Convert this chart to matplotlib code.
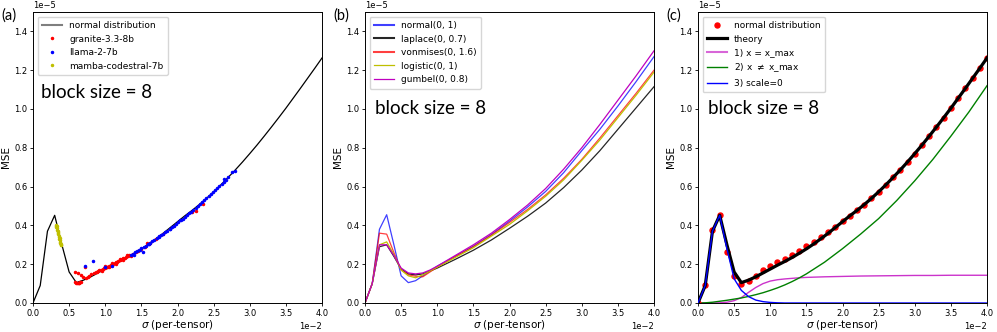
import numpy as np
import matplotlib
matplotlib.use("Agg")
import matplotlib.pyplot as plt
from matplotlib.ticker import MultipleLocator

# ---------------- data (x in 1e-2, y in 1e-5) ----------------
x_fine = [round(0.1 * i, 1) for i in range(41)]

normal_mse = [0.0, 0.095, 0.375, 0.453, 0.263, 0.138, 0.100, 0.115, 0.141, 0.169,
              0.189, 0.210, 0.229, 0.248, 0.270, 0.293, 0.317, 0.339, 0.367, 0.393,
              0.422, 0.449, 0.477, 0.507, 0.539, 0.573, 0.609, 0.647, 0.686, 0.727,
              0.770, 0.814, 0.860, 0.907, 0.955, 1.004, 1.055, 1.106, 1.158, 1.210, 1.263]

theory_mse = [0.0, 0.09, 0.37, 0.452, 0.30, 0.16, 0.105, 0.118, 0.135, 0.155,
              0.175, 0.195, 0.214, 0.234, 0.256, 0.279, 0.304, 0.331, 0.359, 0.389,
              0.419, 0.449, 0.477, 0.507, 0.539, 0.573, 0.609, 0.647, 0.686, 0.727,
              0.770, 0.814, 0.860, 0.907, 0.955, 1.004, 1.055, 1.106, 1.158, 1.210, 1.263]

granite_x = [0.58, 0.60, 0.61, 0.62, 0.63, 0.64, 0.65, 0.67,
             0.58, 0.62, 0.66, 0.69, 0.72, 0.74, 0.76, 0.78, 0.80,
             0.85, 0.87, 0.89, 0.90, 0.92, 0.94, 0.95, 0.97, 0.98, 1.00, 1.02, 1.03, 1.05,
             1.06, 1.08, 1.10, 1.11, 1.13, 1.15, 1.16, 1.18, 1.20, 1.21, 1.23, 1.25, 1.27,
             1.29, 1.31, 1.33, 1.35, 0.95, 1.00, 1.05, 1.10, 1.15, 1.20, 1.25, 1.30, 1.35,
             1.38, 1.42, 1.46, 1.50, 1.55, 1.58, 1.60, 1.62, 1.70, 1.80, 2.20, 2.25, 2.35]
granite_y = [0.108, 0.105, 0.103, 0.104, 0.103, 0.105, 0.107, 0.110,
             0.160, 0.155, 0.145, 0.135, 0.185, 0.130, 0.135, 0.140, 0.148,
             0.155, 0.160, 0.162, 0.165, 0.168, 0.170, 0.172, 0.176, 0.178, 0.180, 0.185, 0.186, 0.190,
             0.193, 0.196, 0.200, 0.203, 0.206, 0.210, 0.212, 0.216, 0.220, 0.222, 0.226, 0.230, 0.234,
             0.238, 0.242, 0.246, 0.250, 0.165, 0.190, 0.185, 0.208, 0.203, 0.228, 0.222, 0.245, 0.242,
             0.255, 0.262, 0.270, 0.280, 0.290, 0.310, 0.305, 0.310, 0.330, 0.355, 0.470, 0.475, 0.510]

llama_x = [0.72, 0.83, 1.00, 1.10, 1.52, 2.65, 2.75, 2.80,
           1.35, 1.38, 1.41, 1.44, 1.47, 1.50, 1.53, 1.56, 1.59, 1.62, 1.65, 1.68, 1.71,
           1.74, 1.77, 1.80, 1.83, 1.86, 1.89, 1.92, 1.95, 1.98, 2.01, 2.04, 2.07, 2.10,
           2.13, 2.16, 2.19, 2.22, 2.25, 2.28, 2.31, 2.34, 2.37, 2.40, 2.43, 2.46, 2.49,
           2.52, 2.55, 2.58, 2.61, 2.64, 2.67, 2.70, 1.40, 1.48, 1.60, 1.75, 1.90, 2.05]
llama_y = [0.190, 0.215, 0.183, 0.190, 0.265, 0.640, 0.675, 0.680,
           0.245, 0.255, 0.262, 0.268, 0.275, 0.282, 0.290, 0.296, 0.303, 0.310, 0.318, 0.325, 0.333,
           0.341, 0.349, 0.357, 0.365, 0.373, 0.382, 0.390, 0.399, 0.408, 0.417, 0.426, 0.435, 0.444,
           0.453, 0.462, 0.471, 0.481, 0.490, 0.500, 0.510, 0.519, 0.529, 0.540, 0.550, 0.560, 0.571,
           0.581, 0.592, 0.603, 0.614, 0.625, 0.636, 0.648, 0.250, 0.272, 0.303, 0.345, 0.383, 0.428]

mamba_x = [0.32, 0.325, 0.33, 0.335, 0.34, 0.345, 0.35, 0.355, 0.36, 0.365, 0.37,
           0.375, 0.38, 0.385, 0.39, 0.33, 0.35, 0.37, 0.325, 0.385]
mamba_y = [0.400, 0.390, 0.385, 0.375, 0.370, 0.360, 0.355, 0.345, 0.340, 0.330, 0.325,
           0.315, 0.310, 0.305, 0.300, 0.395, 0.365, 0.335, 0.398, 0.298]

# panel (b)
x_b = [0.0, 0.1, 0.2, 0.3, 0.4, 0.5, 0.6, 0.7, 0.8, 0.9, 1.0,
       1.25, 1.5, 1.75, 2.0, 2.25, 2.5, 2.75, 3.0, 3.25, 3.5, 3.75, 4.0]
normal_b = [0.0, 0.10, 0.38, 0.455, 0.30, 0.14, 0.105, 0.115, 0.14, 0.165, 0.19,
            0.24, 0.293, 0.353, 0.422, 0.495, 0.575, 0.672, 0.785, 0.895, 1.015, 1.14, 1.27]
laplace_b = [0.0, 0.10, 0.29, 0.30, 0.24, 0.175, 0.15, 0.145, 0.15, 0.165, 0.18,
             0.225, 0.272, 0.325, 0.385, 0.447, 0.515, 0.595, 0.685, 0.785, 0.895, 1.005, 1.115]
vonmises_b = [0.0, 0.10, 0.36, 0.355, 0.26, 0.17, 0.145, 0.138, 0.135, 0.16, 0.185,
              0.24, 0.29, 0.35, 0.415, 0.482, 0.557, 0.643, 0.74, 0.85, 0.965, 1.08, 1.20]
logistic_b = [0.0, 0.10, 0.30, 0.315, 0.25, 0.17, 0.14, 0.13, 0.145, 0.165, 0.185,
              0.235, 0.285, 0.345, 0.405, 0.475, 0.55, 0.635, 0.735, 0.84, 0.955, 1.07, 1.19]
gumbel_b = [0.0, 0.10, 0.30, 0.30, 0.245, 0.18, 0.155, 0.15, 0.155, 0.17, 0.19,
            0.245, 0.30, 0.36, 0.43, 0.505, 0.59, 0.69, 0.80, 0.92, 1.045, 1.17, 1.30]

# panel (c) components
x_c = [0.0, 0.1, 0.2, 0.3, 0.4, 0.5, 0.6, 0.7, 0.8, 0.9, 1.0, 1.1, 1.2, 1.3, 1.4, 1.5,
       1.75, 2.0, 2.25, 2.5, 2.75, 3.0, 3.25, 3.5, 3.75, 4.0]
xmax_c = [0.0, 0.0, 0.0, 0.001, 0.004, 0.012, 0.028, 0.055, 0.080, 0.100, 0.113, 0.120, 0.124,
          0.127, 0.130, 0.132, 0.135, 0.137, 0.139, 0.140, 0.141, 0.142, 0.142, 0.143, 0.143, 0.143]
notmax_c = [0.0, 0.001, 0.004, 0.009, 0.014, 0.020, 0.026, 0.034, 0.043, 0.053, 0.065, 0.078,
            0.093, 0.110, 0.129, 0.150, 0.210, 0.280, 0.355, 0.435, 0.528, 0.630, 0.740, 0.860,
            0.985, 1.120]
scale0_c = [0.0, 0.09, 0.37, 0.452, 0.28, 0.125, 0.065, 0.033, 0.015, 0.007, 0.003, 0.001,
            0.0, 0.0, 0.0, 0.0, 0.0, 0.0, 0.0, 0.0, 0.0, 0.0, 0.0, 0.0, 0.0, 0.0]

XS, YS = 1e-2, 1e-5
def sx(v): return np.asarray(v) * XS
def sy(v): return np.asarray(v) * YS

# ---------------- figure ----------------
fig = plt.figure(figsize=(9.97, 3.32), dpi=100)
W, H = 997, 332
lefts = [33, 365, 698]
ax_w, top, bot = 289, 12, 303
axes = [fig.add_axes([l / W, 1 - bot / H, ax_w / W, (bot - top) / H]) for l in lefts]

TICK_FS = 6
LAB_FS = 7.5
LEG_FS = 6.5
ANNOT_FONT = "Lato"

for ax, lab in zip(axes, ["(a)", "(b)", "(c)"]):
    ax.set_xlim(0, 0.04)
    ax.set_ylim(0, 1.5e-5)
    ax.xaxis.set_major_locator(MultipleLocator(0.005))
    ax.yaxis.set_major_locator(MultipleLocator(0.2e-5))
    ax.ticklabel_format(style="sci", axis="both", scilimits=(0, 0))
    ax.tick_params(labelsize=TICK_FS, length=2.5, width=0.6, pad=1.5)
    ax.xaxis.get_offset_text().set_fontsize(TICK_FS)
    ax.yaxis.get_offset_text().set_fontsize(TICK_FS)
    ax.set_xlabel(r"$\sigma$ (per-tensor)", fontsize=LAB_FS, labelpad=0)
    ax.set_ylabel("MSE", fontsize=LAB_FS, labelpad=2)
    for s in ax.spines.values():
        s.set_linewidth(0.7)
    bb = ax.get_position()
    fig.text(bb.x0 - 32 / W, 1 - 20 / H, lab, fontsize=10.5, family=ANNOT_FONT)

# (a)
ax = axes[0]
ax.plot(sx(x_fine), sy(theory_mse), color="black", lw=0.9, label="normal distribution")
ax.plot(sx(granite_x), sy(granite_y), ".", color="red", ms=3, label="granite-3.3-8b")
ax.plot(sx(llama_x), sy(llama_y), ".", color="blue", ms=3, label="llama-2-7b")
ax.plot(sx(mamba_x), sy(mamba_y), ".", color="#bfbf00", ms=3, label="mamba-codestral-7b")
leg = ax.legend(loc="upper left", fontsize=LEG_FS, handlelength=2.2, borderpad=0.5,
                labelspacing=0.5, bbox_to_anchor=(0.0, 1.0))
leg.get_lines()[0].set_alpha(0.5)
leg.get_lines()[0].set_linewidth(1.5)
ax.text(0.028, 0.704, "block size = 8", transform=ax.transAxes, fontsize=13.5, family=ANNOT_FONT)

# (b)
ax = axes[1]
ax.plot(sx(x_b), sy(normal_b), color="blue", lw=0.9, alpha=0.75, label="normal(0, 1)")
ax.plot(sx(x_b), sy(laplace_b), color="black", lw=0.9, alpha=0.85, label="laplace(0, 0.7)")
ax.plot(sx(x_b), sy(vonmises_b), color="red", lw=0.9, alpha=0.75, label="vonmises(0, 1.6)")
ax.plot(sx(x_b), sy(logistic_b), color="#bfbf00", lw=0.9, label="logistic(0, 1)")
ax.plot(sx(x_b), sy(gumbel_b), color="#bf00bf", lw=0.9, label="gumbel(0, 0.8)")
leg = ax.legend(loc="upper left", fontsize=LEG_FS, handlelength=2.2, borderpad=0.5,
                labelspacing=0.5)
for ln in leg.get_lines()[:3]:
    ln.set_linewidth(1.5)
ax.text(0.035, 0.65, "block size = 8", transform=ax.transAxes, fontsize=13.5, family=ANNOT_FONT)

# (c)
ax = axes[2]
ax.plot(sx(x_c), sy(xmax_c), color="#bf00bf", lw=1.0, alpha=0.8, label="1) x = x_max")
ax.plot(sx(x_c), sy(notmax_c), color="green", lw=1.0, label="2) x $\\neq$ x_max")
ax.plot(sx(x_fine), sy(theory_mse), color="black", lw=2.3, label="theory", zorder=3)
ax.plot(sx(x_c), sy(scale0_c), color="blue", lw=1.0, label="3) scale=0", zorder=4)
ax.plot(sx(x_fine), sy(normal_mse), "o", color="red", ms=3.6, label="normal distribution", zorder=2)
h, l = ax.get_legend_handles_labels()
order = [4, 2, 0, 1, 3]
leg = ax.legend([h[i] for i in order], [l[i] for i in order], loc="upper left",
                fontsize=LEG_FS, handlelength=2.2, borderpad=0.5, labelspacing=0.5)
leg.get_lines()[2].set_alpha(0.6)
leg.get_lines()[2].set_linewidth(1.5)
ax.text(0.035, 0.65, "block size = 8", transform=ax.transAxes, fontsize=13.5, family=ANNOT_FONT)

fig.savefig("out.png", dpi=100)
